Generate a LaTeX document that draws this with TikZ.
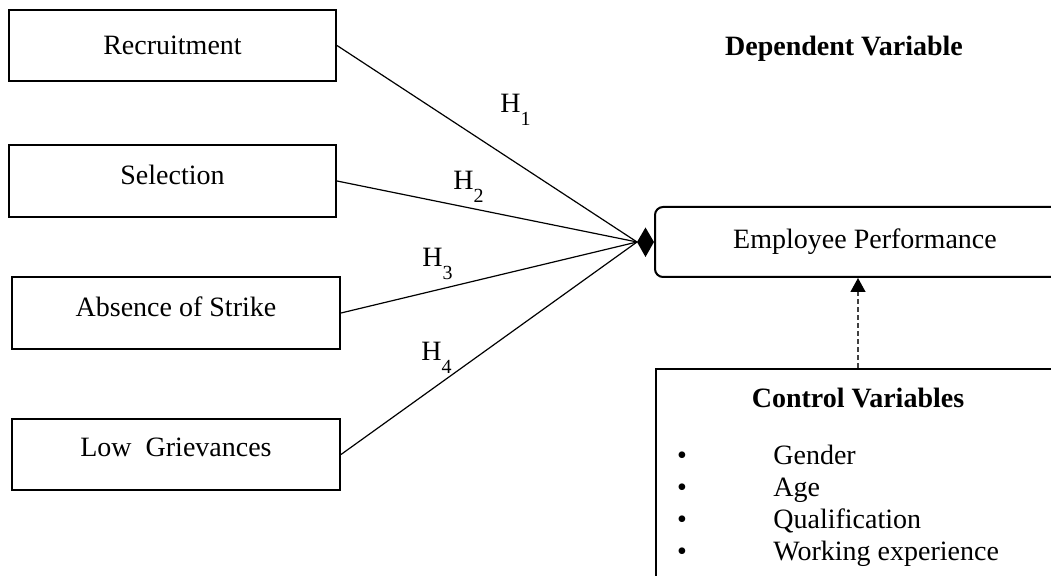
\documentclass[tikz,border=0pt]{standalone}
\usepackage{fontspec}
\setmainfont{Liberation Serif}
\usetikzlibrary{arrows.meta}
\begin{document}
\begin{tikzpicture}[x=0.5pt,y=-0.5pt,
  font=\fontsize{14}{17}\selectfont,
  box/.style={draw,line width=1pt,rectangle,inner sep=0pt,align=center},
  conn/.style={line width=0.6pt},
  hlab/.style={anchor=base west,inner sep=0pt},
  item/.style={anchor=base west,inner sep=0pt},
  bul/.style={anchor=base,inner sep=0pt}]
\useasboundingbox (0,0) rectangle (1051,576);
\clip (0,0) rectangle (1051,576);
% independent variable boxes
\node[box,minimum width=163.5pt,minimum height=35.5pt] (rec) at (172.5,45.5) {Recruitment};
\node[box,minimum width=163.5pt,minimum height=36pt] (sel) at (172.5,181) {\raisebox{6pt}{Selection}};
\node[box,minimum width=164pt,minimum height=36pt] (abs) at (176,313) {\raisebox{6pt}{Absence of Strike}};
\node[box,minimum width=164pt,minimum height=35.5pt] (low) at (176,454.5) {\raisebox{7pt}{Low\ \ Grievances}};
% dependent variable
\node[font=\fontsize{14}{17}\selectfont\bfseries] (dvt) at (844,49) {Dependent Variable};
\node[box,rounded corners=4pt,minimum width=210pt,minimum height=35pt] (ep) at (865,242) {\raisebox{-1pt}{Employee Performance}};
\coordinate (dtip) at ([xshift=-8.5pt]ep.west);
\fill (dtip) -- ++(8.5,-14.5) -- (ep.west) -- ++(-8.5,15) -- cycle;
% connectors
\draw[conn] (rec.east) -- (dtip);
\draw[conn] (sel.east) -- (dtip);
\draw[conn] (abs.east) -- (dtip);
\draw[conn] (low.east) -- (dtip);
% hypothesis labels
\node[hlab] (h1) at (500,113) {H\raisebox{-6.5pt}{\fontsize{10}{12}\selectfont 1}};
\node[hlab] (h2) at (453,190) {H\raisebox{-6.5pt}{\fontsize{10}{12}\selectfont 2}};
\node[hlab] (h3) at (422,267) {H\raisebox{-6.5pt}{\fontsize{10}{12}\selectfont 3}};
\node[hlab] (h4) at (421,361) {H\raisebox{-6.5pt}{\fontsize{10}{12}\selectfont 4}};
% control variables
\node[draw,line width=1pt,rectangle,inner sep=0pt,minimum width=210pt,minimum height=120pt,anchor=north west] (ctrl) at (655,368) {};
\node[font=\fontsize{14}{17}\selectfont\bfseries] (ctt) at (858,398) {Control Variables};
\node[bul] (b1) at (682,465) {\textbullet};
\node[bul] (b2) at (682,497) {\textbullet};
\node[bul] (b3) at (682,529) {\textbullet};
\node[bul] (b4) at (682,561) {\textbullet};
\node[item] (i1) at (773,465) {Gender};
\node[item] (i2) at (773,497) {Age};
\node[item] (i3) at (773,529) {Qualification};
\node[item] (i4) at (773,561) {Working experience};
\draw[line width=0.6pt,draw=black!75,dash pattern=on 2.5pt off 1.5pt,-{Triangle[width=7.5pt,length=7pt,color=black]}]
  (ctrl.north west -| 858,0) -- (ep.south west -| 858,0);
\end{tikzpicture}
\end{document}
